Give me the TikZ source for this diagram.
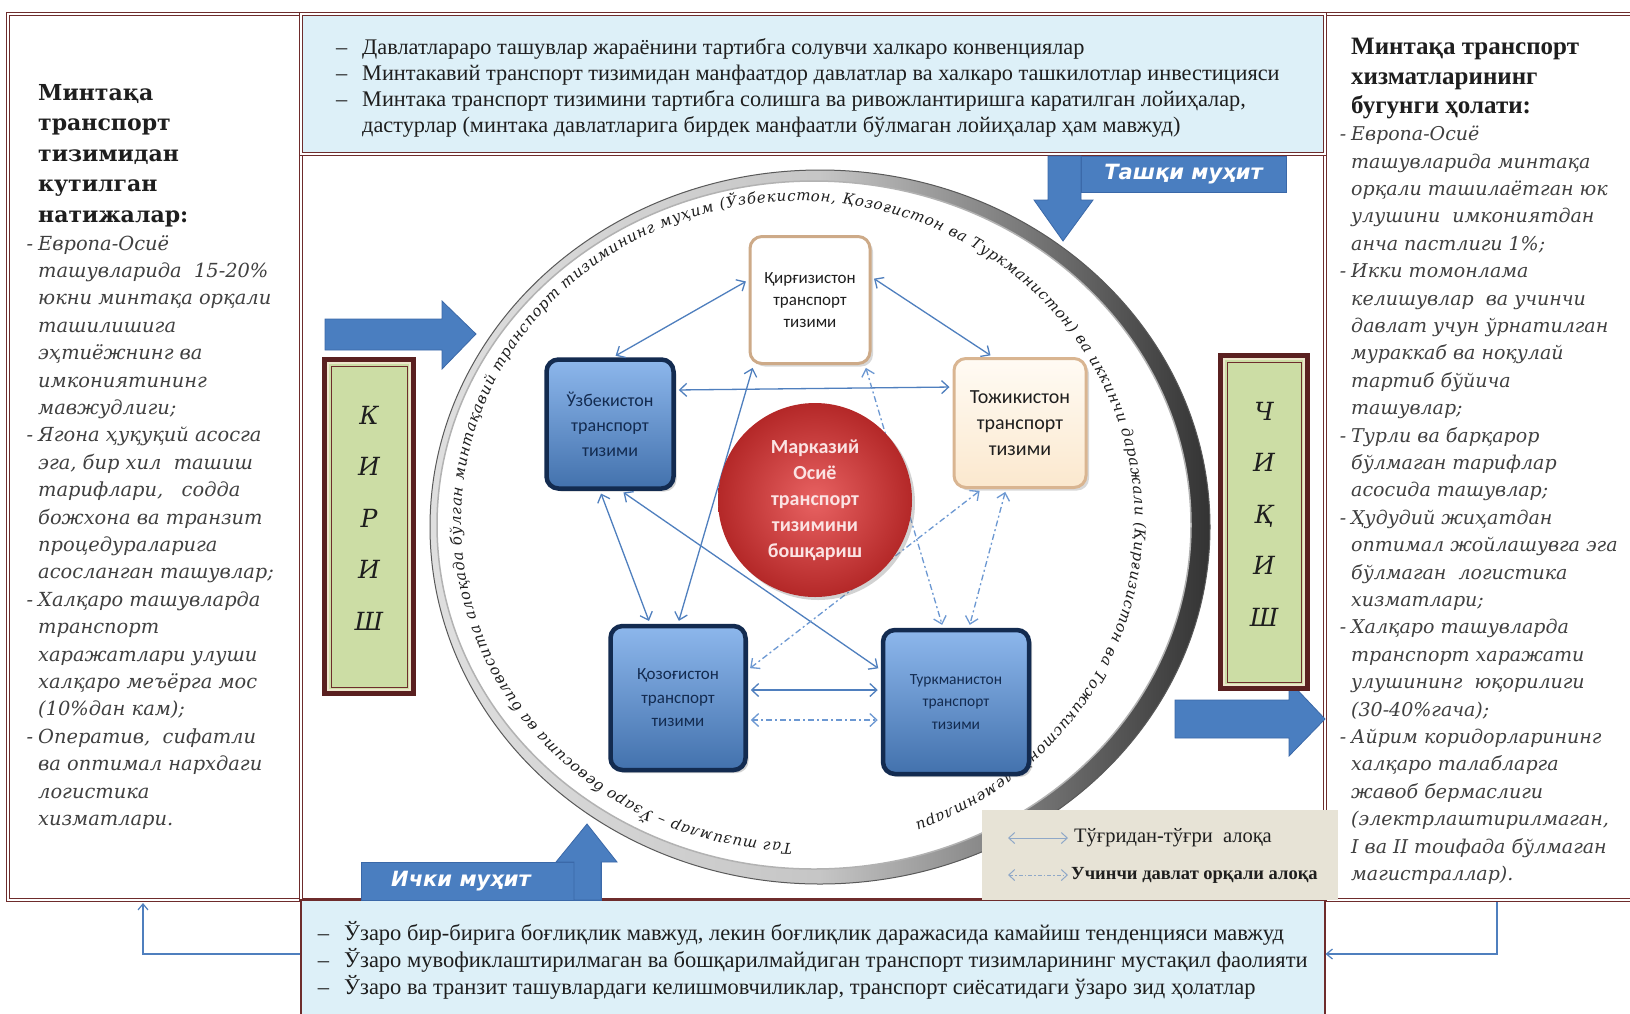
\documentclass[tikz,border=0pt]{standalone}
\usepackage{fontspec}
\setmainfont{Liberation Serif}
\newfontfamily\dvs{DejaVu Serif}
\newfontfamily\dvsans{DejaVu Sans}
\newfontfamily\nodefnt{Carlito}
\usetikzlibrary{arrows.meta,shadows,decorations.text,calc}
\definecolor{frc}{HTML}{6E2C2C}
\definecolor{frd}{HTML}{5A2020}
\definecolor{lbl}{HTML}{DDF0F8}
\definecolor{blu}{HTML}{4A7EC0}
\definecolor{bluD}{HTML}{3A68A8}
\definecolor{bluT}{HTML}{8DB7EC}
\definecolor{navy}{HTML}{132B50}
\definecolor{grn}{HTML}{CCDDA5}
\definecolor{crm}{HTML}{EDE6CC}
\definecolor{cline}{HTML}{4F7FBE}
\definecolor{dline}{HTML}{6C98D2}
\definecolor{legc}{HTML}{E7E3D6}
\definecolor{legar}{HTML}{8FA8C8}
\definecolor{txt}{HTML}{1E1E1E}
\definecolor{kgdraw}{HTML}{CDAA88}
\definecolor{tjtop}{HTML}{FFFBF4}
\definecolor{tjbot}{HTML}{FBE8CE}
\definecolor{tjdraw}{HTML}{D9B591}
\definecolor{redin}{HTML}{E86262}
\definecolor{redout}{HTML}{B42828}
\definecolor{redtxt}{HTML}{FBE3E3}
\newcommand\lidash{\leavevmode\llap{-\hspace{5pt}}}
\newcommand\tdash{\leavevmode\llap{–\hspace{15pt}}}
\begin{document}
\begin{tikzpicture}[x=1pt,y=-1pt,
  conn/.style={draw=cline, line width=1.3pt, shorten <=3pt, shorten >=3pt,
    {Straight Barb[length=7pt,width=13pt]}-{Straight Barb[length=7pt,width=13pt]}},
  dconn/.style={conn, draw=dline, dash pattern=on 6pt off 3pt on 2pt off 3pt},
  flow/.style={draw=cline, line width=1.2pt, -{Straight Barb[length=6pt,width=10pt]}},
  bluebox/.style={rectangle, rounded corners=12pt, draw=navy, line width=4.5pt,
    top color=bluT, bottom color=blu!90!black, align=center, text=navy,
    drop shadow={opacity=0.35, shadow xshift=3pt, shadow yshift=-3pt}},
  palebox/.style={rectangle, rounded corners=12pt, line width=3pt, align=center, text=txt,
    drop shadow={opacity=0.3, shadow xshift=3pt, shadow yshift=-3pt}},
  blocklabel/.style={rectangle, fill=blu, draw=bluD, line width=0.8pt, text=white,
    font=\dvsans\bfseries\itshape\fontsize{21}{24}\selectfont},
  gbox/.style={rectangle, fill=grn, draw=frd, line width=7pt},
  gtext/.style={align=center, text=txt, inner sep=0, font=\dvs\itshape\fontsize{25}{51.5}\selectfont}
]
\useasboundingbox (0,0) rectangle (1630,1013);
\fill[white] (0,0) rectangle (1630,1013);

% ---------- frames ----------
\node[draw=frc, line width=1.1pt, double=white, double distance=2.5pt, fill=white,
  minimum width=293pt, minimum height=886pt, inner sep=0] (lb) at (154.5,457) {};
\node[draw=frc, line width=1.1pt, double=white, double distance=2.5pt, fill=white,
  minimum width=315pt, minimum height=886pt, inner sep=0] (rb) at (1482.5,457) {};
\node[draw=frc, line width=1.1pt, double=white, double distance=2.5pt, fill=white,
  minimum width=1024pt, minimum height=746pt, inner sep=0] (mid) at (813,527) {};
\node[draw=frc, line width=1.1pt, double=white, double distance=2.5pt, fill=lbl,
  minimum width=1024pt, minimum height=140pt, inner sep=0] (top) at (813,84) {};
\node[draw=frc, line width=1.1pt, fill=lbl,
  minimum width=1024pt, minimum height=126pt, inner sep=0] (bot) at (813,963) {};

% ---------- top / bottom texts ----------
\node[anchor=north west, inner sep=0, align=left, text=txt,
  font=\fontsize{22.3}{26}\selectfont] (toptext) at (362,38)
{\tdash Давлатлараро ташувлар жараёнини тартибга солувчи халкаро конвенциялар\\
 \tdash Минтакавий транспорт тизимидан манфаатдор давлатлар ва халкаро ташкилотлар инвестицияси\\
 \tdash Минтака транспорт тизимини тартибга солишга ва ривожлантиришга каратилган лойиҳалар,\\
 дастурлар (минтака давлатларига бирдек манфаатли бўлмаган лойиҳалар ҳам мавжуд)};

\node[anchor=north west, inner sep=0, align=left, text=txt,
  font=\fontsize{22.5}{27.3}\selectfont] (bottext) at (344,921)
{\tdash Ўзаро бир-бирига боғлиқлик мавжуд, лекин боғлиқлик даражасида камайиш тенденцияси мавжуд\\
 \tdash Ўзаро мувофиклаштирилмаган ва бошқарилмайдиган транспорт тизимларининг мустақил фаолияти\\
 \tdash Ўзаро ва транзит ташувлардаги келишмовчиликлар, транспорт сиёсатидаги ўзаро зид ҳолатлар};

% ---------- left column ----------
\node[anchor=north west, inner sep=0, align=left, text=txt,
  font=\dvs\bfseries\fontsize{22}{30.5}\selectfont] (ltitle) at (38,84)
{Минтақа\\транспорт\\тизимидан\\кутилган\\натижалар:};
\node[anchor=north west, inner sep=0, align=left, text=txt!85,
  font=\dvs\itshape\fontsize{19.4}{27.4}\selectfont] (llist) at (38,235)
{\lidash Европа-Осиё\\
ташувларида~ 15-20\%\\
юкни минтақа орқали\\
ташилишига\\
эҳтиёжнинг ва\\
имкониятининг\\
мавжудлиги;\\
\lidash Ягона ҳуқуқий асосга\\
эга, бир хил~ ташиш\\
тарифлари,~~ содда\\
божхона ва транзит\\
процедураларига\\
асосланган ташувлар;\\
\lidash Халқаро ташувларда\\
транспорт\\
харажатлари улуши\\
халқаро меъёрга мос\\
(10\%дан кам);\\
\lidash Оператив,~ сифатли\\
ва оптимал нархдаги\\
логистика\\
хизматлари.};

% ---------- right column ----------
\node[anchor=north west, inner sep=0, align=left, text=txt,
  font=\bfseries\fontsize{25}{29.5}\selectfont] (rtitle) at (1351,38)
{Минтақа транспорт\\хизматларининг\\бугунги ҳолати:};
\node[anchor=north west, inner sep=0, align=left, text=txt!85,
  font=\dvs\itshape\fontsize{19}{27.4}\selectfont] (rlist) at (1351,126)
{\lidash Европа-Осиё\\
ташувларида минтақа\\
орқали ташилаётган юк\\
улушини~ имкониятдан\\
анча пастлиги 1\%;\\
\lidash Икки томонлама\\
келишувлар~ ва учинчи\\
давлат учун ўрнатилган\\
мураккаб ва ноқулай\\
тартиб бўйича\\
ташувлар;\\
\lidash Турли ва барқарор\\
бўлмаган тарифлар\\
асосида ташувлар;\\
\lidash Ҳудудий жиҳатдан\\
оптимал жойлашувга эга\\
бўлмаган~ логистика\\
хизматлари;\\
\lidash Халқаро ташувларда\\
транспорт харажати\\
улушининг~ юқорилиги\\
(30-40\%гача);\\
\lidash Айрим коридорларининг\\
халқаро талабларга\\
жавоб бермаслиги\\
(электрлаштирилмаган,\\
I ва II тоифада бўлмаган\\
магистраллар).};

% ---------- ring ----------
\shade[left color=gray!25, right color=black!80, middle color=gray!45]
  (820,527) ellipse [x radius=390, y radius=357];
\draw[black!65, line width=1pt] (820,527) ellipse [x radius=390, y radius=357];
\filldraw[fill=white, draw=gray!60, line width=1.5pt]
  (814,525) ellipse [x radius=377, y radius=344];
\path[decorate, decoration={text along path, text align={fit to path},
  text={|\dvs\itshape\fontsize{15}{15}\selectfont\color{txt}|Таг тизимлар – Ўзаро бевосита ва билвосита алоқада бўлган минтақавий транспорт тизимининг муҳим (Ўзбекистон, Қозоғистон ва Туркманистон) ва иккинчи даражали (Қирғизистон ва Тожикистон) элементлари}}]
  (798,522) ++(-269:337 and 321) arc[start angle=-269, end angle=69.5, x radius=337, y radius=321];

% ---------- nodes ----------
\node[palebox, fill=white, draw=kgdraw, minimum width=120pt, minimum height=127pt,
  font=\nodefnt\fontsize{17}{22}\selectfont] (kg) at (810,300) {Қирғизистон\\транспорт\\тизими};
\node[palebox, top color=tjtop, bottom color=tjbot, draw=tjdraw,
  minimum width=132pt, minimum height=129pt,
  font=\nodefnt\fontsize{20}{26}\selectfont] (tj) at (1020,423) {Тожикистон\\транспорт\\тизими};
\node[bluebox, minimum width=127pt, minimum height=129pt,
  font=\nodefnt\fontsize{18}{25}\selectfont] (uz) at (610,424) {Ўзбекистон\\транспорт\\тизими};
\node[bluebox, minimum width=135pt, minimum height=144pt,
  font=\nodefnt\fontsize{17}{23.5}\selectfont] (kz) at (678,698) {Қозоғистон\\транспорт\\тизими};
\node[bluebox, minimum width=146pt, minimum height=144pt,
  font=\nodefnt\fontsize{15.5}{22.5}\selectfont] (tm) at (956,702) {Туркманистон\\транспорт\\тизими};

% ---------- connectors ----------
\draw[conn] ([xshift=3pt]uz.north) -- ([yshift=20pt]kg.west);
\draw[conn] ([yshift=23pt]kg.east) -- ([xshift=-27pt]tj.north);
\draw[conn] ([yshift=34pt]uz.east) -- ([yshift=36pt]tj.west);
\draw[conn] ([xshift=-10pt]uz.south) -- ([xshift=-28pt]kz.north);
\draw[conn] ([xshift=5pt]kg.south west) -- (kz.north);
\draw[conn] ([xshift=11pt]uz.south) -- ([yshift=32pt]tm.west);
\draw[conn] ([yshift=8pt]kz.east) -- ([yshift=12pt]tm.west);
\draw[dconn] ([yshift=-22pt]kz.east) -- ([yshift=-18pt]tm.west);
\draw[dconn] ([yshift=28pt]kz.east) -- ([xshift=-38pt]tj.south);
\draw[dconn] ([xshift=-14pt]tj.south) -- ([xshift=13pt]tm.north);
\draw[dconn] ([xshift=55pt]kg.south) -- ([xshift=-13pt]tm.north);

\node[circle, minimum size=194pt, inner sep=0, inner color=redin, outer color=redout,
  drop shadow={opacity=0.35, shadow xshift=3pt, shadow yshift=-3pt},
  align=center, text=redtxt, font=\nodefnt\bfseries\fontsize{20}{26}\selectfont]
  (mc) at (815,500) {Марказий\\Осиё\\транспорт\\тизимини\\бошқариш};

% ---------- block arrows ----------
\filldraw[fill=blu, draw=bluD, line width=0.8pt]
  (325,319) -- (442,319) -- (442,301) -- (476,334) -- (442,369) -- (442,350) -- (325,350) -- cycle;
\filldraw[fill=blu, draw=bluD, line width=0.8pt]
  (1175,700) -- (1289,700) -- (1289,681) -- (1325,719) -- (1289,756) -- (1289,738) -- (1175,738) -- cycle;
\node[blocklabel, minimum width=205pt, minimum height=36pt, inner sep=0] (tashqi) at (1183.5,174) {Ташқи муҳит};
\filldraw[fill=blu, draw=bluD, line width=0.8pt]
  (1048,156) -- (1081,156) -- (1081,200) -- (1093,200) -- (1063,241) -- (1034,200) -- (1048,200) -- cycle;
\node[blocklabel, minimum width=240pt, minimum height=38pt, inner sep=0] (ichki) at (481,881) {\hspace*{-40pt}Ички муҳит};
\filldraw[fill=blu, draw=bluD, line width=0.8pt]
  (574,900) -- (574,862) -- (556,862) -- (587,824) -- (617,862) -- (601,862) -- (601,900) -- cycle;

% ---------- entry / exit boxes ----------
\node[gbox, minimum width=87pt, minimum height=332pt, inner sep=0] (kirish) at (369,526.5) {};
\draw[crm, line width=1.5pt] ([shift={(6pt,-6pt)}]kirish.north west) rectangle ([shift={(-6pt,6pt)}]kirish.south east);
\draw[frc, line width=1pt] ([shift={(9pt,-9pt)}]kirish.north west) rectangle ([shift={(-9pt,9pt)}]kirish.south east);
\node[gtext] (kirishtxt) at (369,518) {К\\И\\Р\\И\\Ш};
\node[gbox, minimum width=85pt, minimum height=331pt, inner sep=0] (chiqish) at (1264,522) {};
\draw[crm, line width=1.5pt] ([shift={(6pt,-6pt)}]chiqish.north west) rectangle ([shift={(-6pt,6pt)}]chiqish.south east);
\draw[frc, line width=1pt] ([shift={(9pt,-9pt)}]chiqish.north west) rectangle ([shift={(-9pt,9pt)}]chiqish.south east);
\node[gtext] (chiqishtxt) at (1264,514) {Ч\\И\\Қ\\И\\Ш};

% ---------- flow lines ----------
\coordinate (lbin) at (143,903);
\coordinate (rbout) at (1497,902);
\draw[flow] ([yshift=9pt]bot.west) -| (lbin);
\draw[flow] (rbout) |- ([yshift=9pt]bot.east);

% ---------- legend ----------
\node[rectangle, fill=legc, minimum width=356pt, minimum height=90pt, inner sep=0] (legend) at (1160,855) {};
\coordinate (l1a) at (1008,838); \coordinate (l1b) at (1068,838);
\coordinate (l2a) at (1008,875); \coordinate (l2b) at (1068,875);
\draw[draw=legar, line width=1pt, {Straight Barb[length=6pt,width=11pt]}-{Straight Barb[length=6pt,width=11pt]}] (l1a) -- (l1b);
\draw[draw=legar, line width=1pt, dash pattern=on 4pt off 2pt on 1.5pt off 2pt, {Straight Barb[length=6pt,width=11pt]}-{Straight Barb[length=6pt,width=11pt]}] (l2a) -- (l2b);
\node[anchor=west, inner sep=0, text=txt, font=\fontsize{20.5}{22}\selectfont] (leg1) at (1074,838) {Тўғридан-тўғри~ алоқа};
\node[anchor=west, inner sep=0, text=txt, font=\bfseries\fontsize{18.5}{21}\selectfont] (leg2) at (1071,875) {Учинчи давлат орқали алоқа};
\end{tikzpicture}
\end{document}
